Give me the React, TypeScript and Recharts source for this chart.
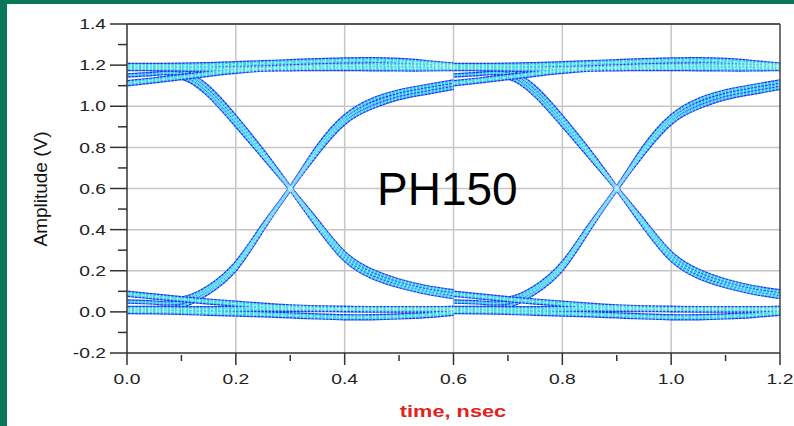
import React from "react";
import { LineChart, Line, XAxis, YAxis, ReferenceLine, CartesianGrid } from "recharts";

// sample instants across the two-UI window (ns)
const times = [0, 0.05, 0.1, 0.15, 0.2, 0.25, 0.3, 0.35, 0.4, 0.45, 0.5, 0.55, 0.6,
  0.65, 0.7, 0.75, 0.8, 0.85, 0.9, 0.95, 1.0, 1.05, 1.1, 1.15, 1.2];

// one unit interval (bit centre to bit centre)
const hiSteadyTop = [1.196, 1.196, 1.197, 1.2, 1.204, 1.209, 1.214, 1.219, 1.223, 1.224, 1.22, 1.21, 1.198];
const hiSteadyLow = [1.186, 1.185, 1.183, 1.182, 1.183, 1.184, 1.185, 1.186, 1.186, 1.185, 1.184, 1.184, 1.186];
const hiFresh = [1.112, 1.126, 1.142, 1.158, 1.172, 1.183, 1.19, 1.195, 1.198, 1.2, 1.199, 1.197, 1.195];
const loSteadyTop = [0.014, 0.014, 0.013, 0.013, 0.014, 0.015, 0.015, 0.015, 0.014, 0.013, 0.013, 0.013, 0.014];
const loSteadyLow = [0.004, 0.003, 0.0, -0.004, -0.008, -0.012, -0.017, -0.022, -0.026, -0.026, -0.022, -0.015, -0.004];
const loFresh = [0.088, 0.075, 0.062, 0.05, 0.04, 0.03, 0.022, 0.017, 0.014, 0.013, 0.013, 0.013, 0.014];
const fallSteady = [1.19, 1.188, 1.172, 1.09, 0.945, 0.78, 0.6, 0.415, 0.255, 0.17, 0.125, 0.094, 0.072];
const fallMid = [1.15, 1.158, 1.156, 1.072, 0.928, 0.768, 0.6, 0.428, 0.27, 0.185, 0.138, 0.106, 0.086];
const fallFresh = [1.112, 1.128, 1.14, 1.055, 0.91, 0.756, 0.6, 0.44, 0.285, 0.2, 0.152, 0.12, 0.1];
const riseSteady = [0.012, 0.013, 0.028, 0.095, 0.21, 0.405, 0.6, 0.775, 0.92, 0.995, 1.04, 1.066, 1.09];
const riseMid = [0.05, 0.045, 0.046, 0.108, 0.222, 0.412, 0.6, 0.787, 0.935, 1.012, 1.056, 1.082, 1.105];
const riseFresh = [0.088, 0.076, 0.064, 0.12, 0.235, 0.42, 0.6, 0.8, 0.95, 1.03, 1.072, 1.098, 1.12];

const levelSegs: Record<string, number[]> = { hiSteadyTop, hiSteadyLow, hiFresh, loSteadyTop, loSteadyLow, loFresh };
const edgeSegs: Record<string, number[]> = { fallSteady, fallMid, fallFresh, riseSteady, riseMid, riseFresh };

const yMajor = [-0.2, 0, 0.2, 0.4, 0.6, 0.8, 1.0, 1.2, 1.4];
const yMinor = [-0.1, 0.1, 0.3, 0.5, 0.7, 0.9, 1.1, 1.3];
const xMajor = [0, 0.2, 0.4, 0.6, 0.8, 1.0, 1.2];
const xMinor = [0.1, 0.3, 0.5, 0.7, 0.9, 1.1];

const Y_DOMAIN: [number, number] = [-0.2, 1.4];
const X_DOMAIN: [number, number] = [0, 1.2];

const UI_STEPS = 12;
const allSegs = { ...levelSegs, ...edgeSegs };
const keysOf = (segs: Record<string, number[]>) => Object.keys(segs).flatMap((n) => [n + "0", n + "1"]);
const levelKeys = keysOf(levelSegs);
const edgeKeys = keysOf(edgeSegs);

const data = times.map((t, i) => {
  const row: Record<string, number | null> = { t };
  Object.entries(allSegs).forEach(([name, vals]) => {
    [0, 1].forEach((c) => {
      const j = i - c * UI_STEPS;
      row[name + c] = j >= 0 && j < vals.length ? vals[j] : null;
    });
  });
  return row;
});

const FONT = "'Liberation Sans', Arial, sans-serif";
const isMajor = (v: number) => Math.abs(Math.round(v * 10)) % 2 === 0;

const Y_TICK = 17;
const Y_MARGIN = 4;
const X_TICK = 12;
const X_MARGIN = 9;
const STRETCH = 1.33; // tick text in the source is drawn wide

const YTick = (props: any) => {
  const { x, y, payload } = props;
  const ax = x + Y_TICK + Y_MARGIN;
  const major = isMajor(payload.value);
  return (
    <g>
      <line x1={ax - (major ? Y_TICK : 9)} x2={ax} y1={y} y2={y} stroke="#333" strokeWidth={1.5} />
      {major && (
        <text transform={`translate(${x},${y}) scale(${STRETCH},1)`} dy="0.36em" textAnchor="end"
          fontFamily={FONT} fontSize={14.5} fill="#222">
          {payload.value.toFixed(1)}
        </text>
      )}
    </g>
  );
};

const XTick = (props: any) => {
  const { x, y, payload } = props;
  const ay = y - X_TICK - X_MARGIN;
  const major = isMajor(payload.value);
  return (
    <g>
      <line x1={x} x2={x} y1={major ? ay : ay + 2} y2={major ? ay + X_TICK : ay + 8} stroke="#333" strokeWidth={1.5} />
      {major && (
        <text transform={`translate(${x},${y}) scale(${STRETCH},1)`} dy="0.71em" textAnchor="middle"
          fontFamily={FONT} fontSize={14.5} fill="#222">
          {payload.value.toFixed(1)}
        </text>
      )}
    </g>
  );
};

// band look: blue rim, cyan body, greenish core, white pixel grid
const levelLayers = [
  { stroke: "#1433f2", width: 6.4, opacity: 1, dash: undefined },
  { stroke: "#38d0f8", width: 4, opacity: 1, dash: undefined },
  { stroke: "#9cffa8", width: 1.3, opacity: 0.8, dash: "4 3" },
  { stroke: "#ffffff", width: 7, opacity: 0.5, dash: "1 2.6" },
];
const edgeLayers = [
  { stroke: "#1433f2", width: 4.5, opacity: 1, dash: undefined },
  { stroke: "#36cff7", width: 2.2, opacity: 1, dash: undefined },
  { stroke: "#ffffff", width: 5, opacity: 0.45, dash: "1 2.6" },
];

const gridY = yMajor.slice(1, -1);
const gridX = xMajor.slice(1, -1);

// grid only at the major ticks, placed from the plot box and the axis domains
const hGrid = ({ offset }: any) =>
  gridY.map((v) => offset.top + ((Y_DOMAIN[1] - v) / (Y_DOMAIN[1] - Y_DOMAIN[0])) * offset.height);
const vGrid = ({ offset }: any) =>
  gridX.map((v) => offset.left + ((v - X_DOMAIN[0]) / (X_DOMAIN[1] - X_DOMAIN[0])) * offset.width);

const renderLines = (layers: typeof levelLayers, keys: string[], tag: string) =>
  layers.map((l, li) =>
    keys.map((k) => (
      <Line
        key={tag + k + li}
        dataKey={k}
        type="natural"
        stroke={l.stroke}
        strokeWidth={l.width}
        strokeOpacity={l.opacity}
        strokeDasharray={l.dash}
        dot={false}
        activeDot={false}
        connectNulls={false}
        isAnimationActive={false}
      />
    ))
  );

export default function App() {
  return (
    <div style={{ position: "absolute", left: 0, top: 0, width: 794, height: 426, background: "#0b775a" }}>
      <div style={{ position: "absolute", left: 7, top: 4, width: 787, height: 422, background: "#fff" }}>
        <LineChart width={787} height={422} data={data} margin={{ top: 20, right: 14, bottom: 33, left: 0 }}>
          <CartesianGrid
            stroke="#c6c6c6"
            strokeWidth={1.5}
            horizontalCoordinatesGenerator={hGrid}
            verticalCoordinatesGenerator={vGrid}
          />
          <XAxis
            dataKey="t"
            type="number"
            domain={X_DOMAIN}
            ticks={[...xMajor, ...xMinor].sort((a, b) => a - b)}
            interval={0}
            height={40}
            tickSize={X_TICK}
            tickMargin={X_MARGIN}
            tickLine={false}
            tick={<XTick />}
            axisLine={{ stroke: "#333", strokeWidth: 1.5 }}
          />
          <YAxis
            type="number"
            domain={Y_DOMAIN}
            ticks={[...yMajor, ...yMinor].sort((a, b) => a - b)}
            interval={0}
            width={120}
            tickSize={Y_TICK}
            tickMargin={Y_MARGIN}
            tickLine={false}
            tick={<YTick />}
            axisLine={{ stroke: "#333", strokeWidth: 1.5 }}
          />
          {renderLines(edgeLayers, edgeKeys, "e")}
          {renderLines(levelLayers, levelKeys, "l")}
          <ReferenceLine y={1.4} stroke="#555" strokeWidth={2} />
          <ReferenceLine x={1.2} stroke="#444" strokeWidth={1.5} />
        </LineChart>
      </div>
      <svg width={794} height={426} style={{ position: "absolute", left: 0, top: 0, pointerEvents: "none" }}>
        <text x={40} y={189} transform="rotate(-90 40 189)" textAnchor="middle" dominantBaseline="central"
          fontFamily={FONT} fontSize={19} fill="#111">Amplitude (V)</text>
        <text transform="translate(453,417) scale(1.36,1)" textAnchor="middle" fontFamily={FONT} fontSize={16}
          fontWeight="bold" fill="#e3211c">
          time, nsec
        </text>
        <text x={377} y={205} fontFamily={FONT} fontSize={46} fill="#000">PH150</text>
      </svg>
    </div>
  );
}
